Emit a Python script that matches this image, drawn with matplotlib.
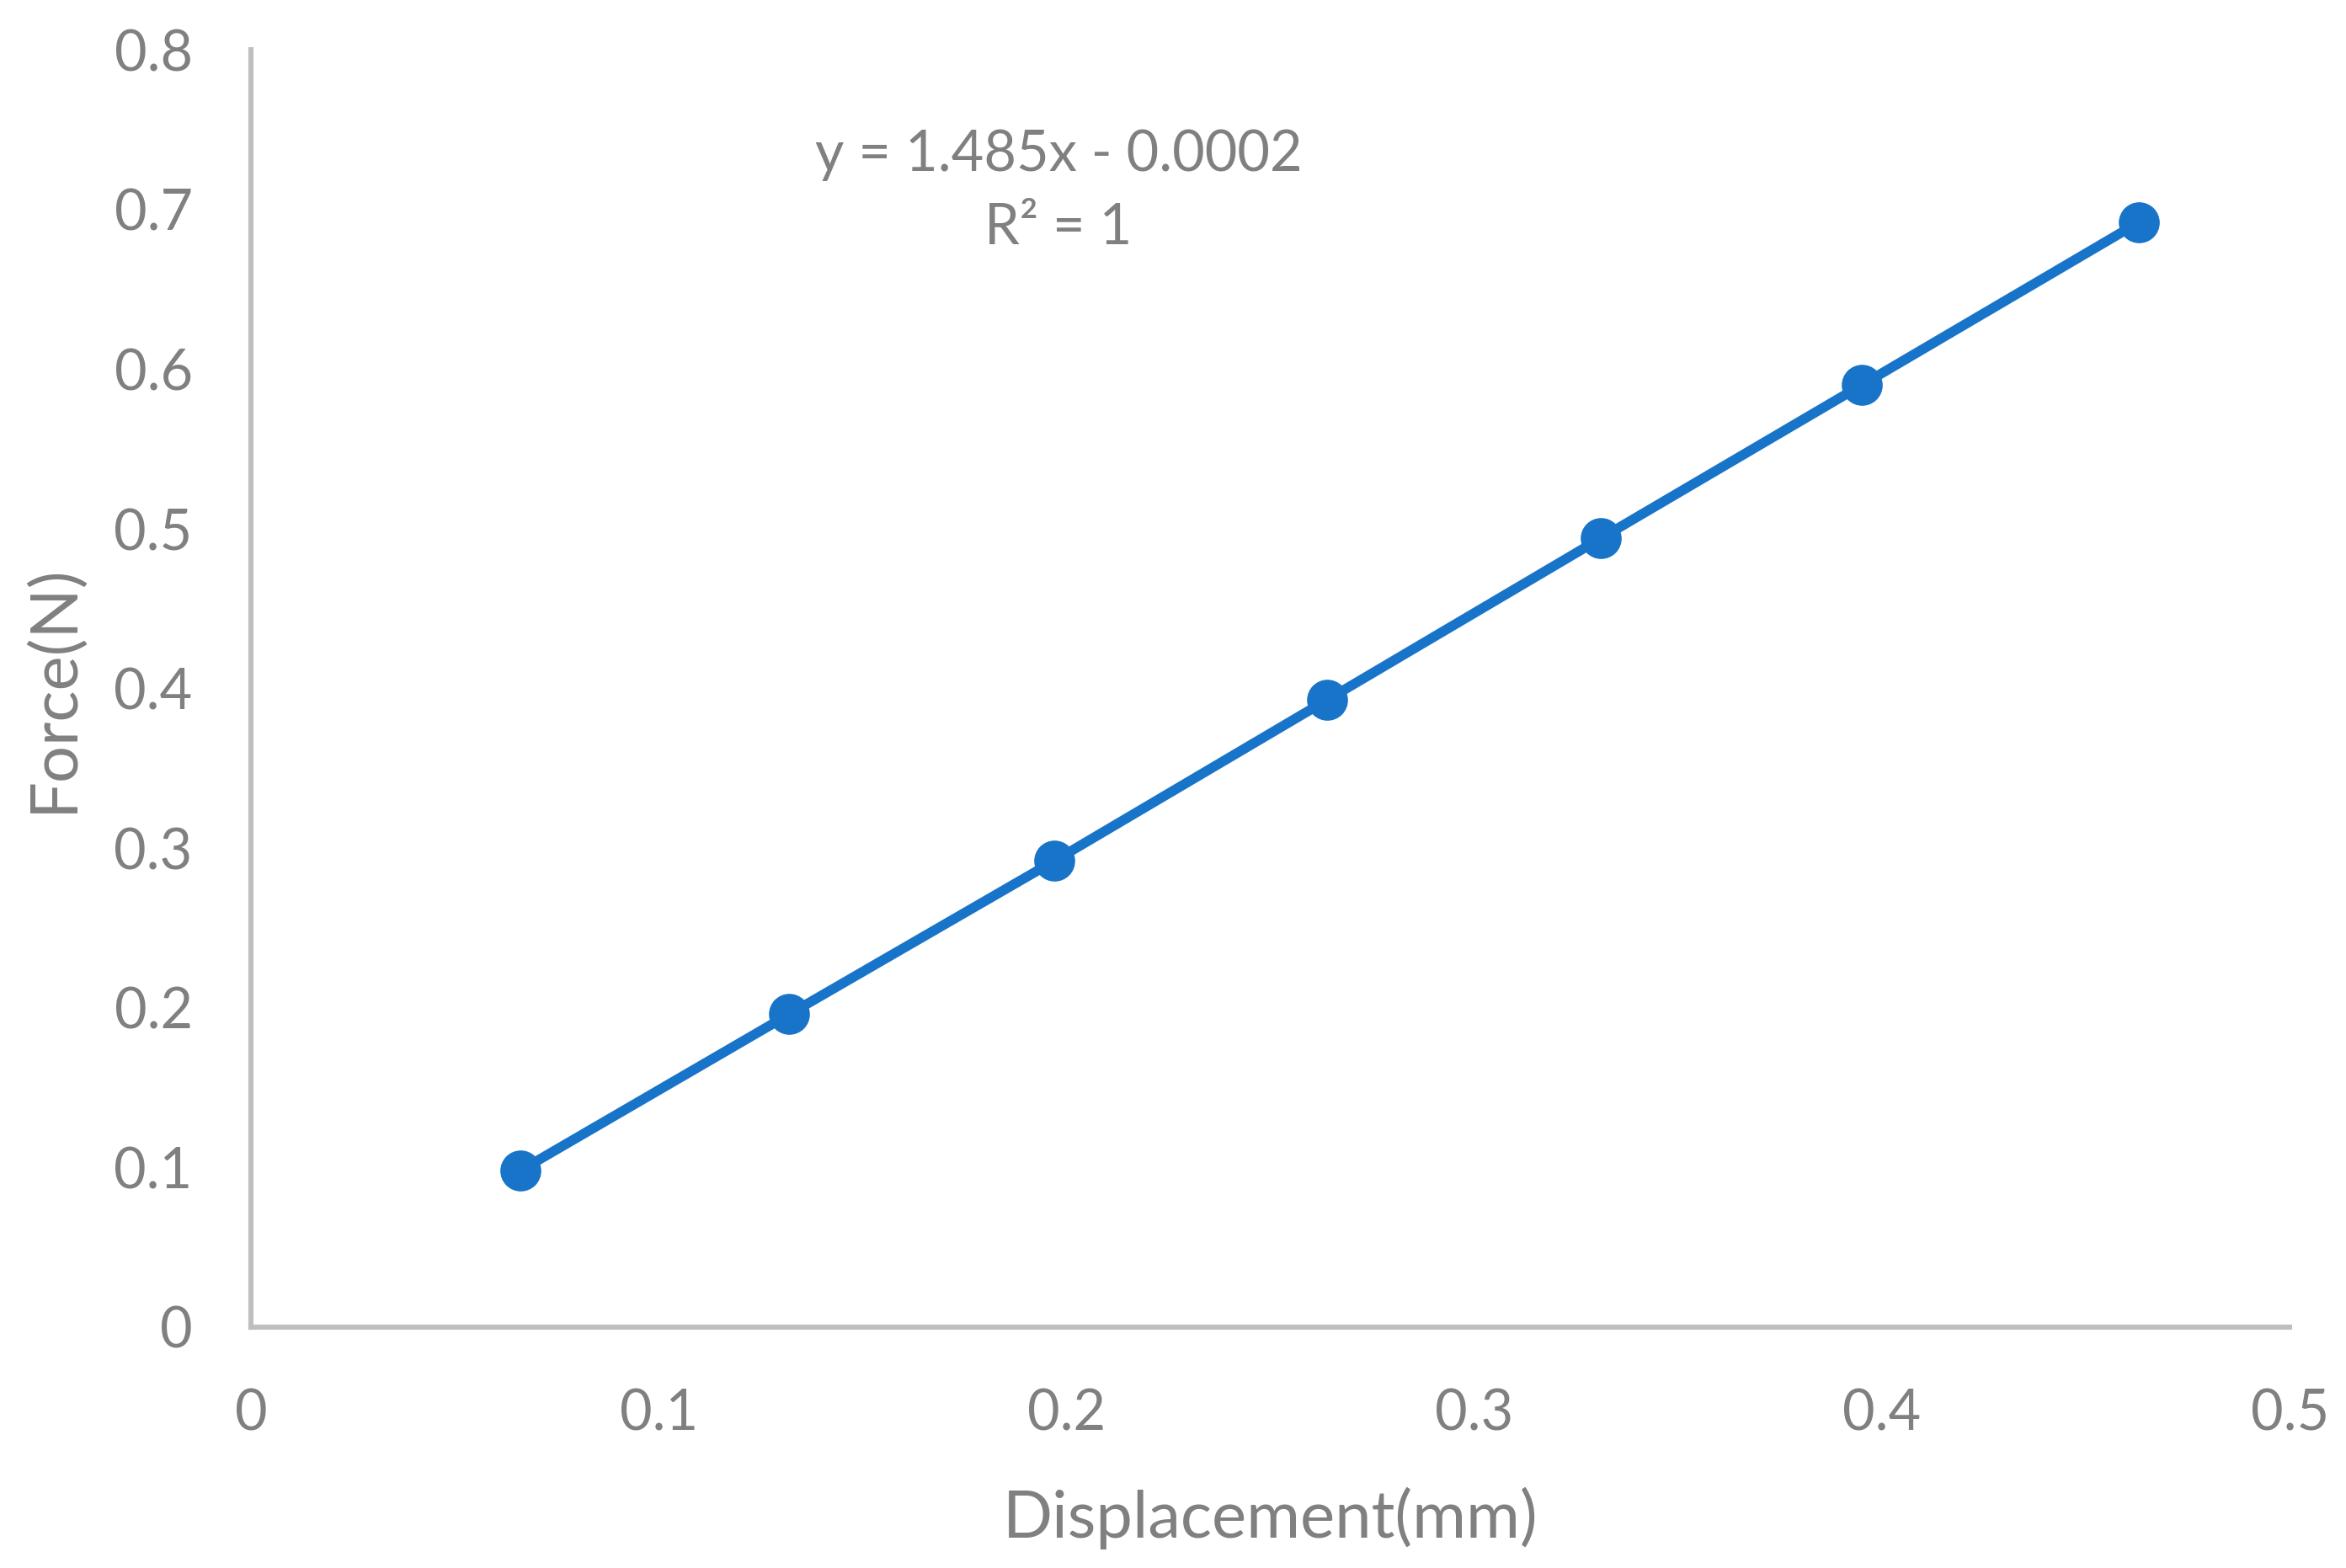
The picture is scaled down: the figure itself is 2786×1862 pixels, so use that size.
import matplotlib.pyplot as plt

# displacement (mm) and force (N)
displacement = [0.066, 0.132, 0.197, 0.264, 0.331, 0.395, 0.463]
force = [0.098, 0.196, 0.292, 0.393, 0.494, 0.590, 0.692]

x_ticks = [0, 0.1, 0.2, 0.3, 0.4, 0.5]
y_ticks = [0, 0.1, 0.2, 0.3, 0.4, 0.5, 0.6, 0.7, 0.8]
trend_text = 'y = 1.485x - 0.0002\nR² = 1'

plt.rcParams['font.family'] = ['Lato', 'DejaVu Sans']
grey = '#808080'
blue = '#1874C8'

fig = plt.figure(figsize=(13.93, 9.31), dpi=200)
ax = fig.add_axes([0.107, 0.1536, 0.869, 0.8146])

ax.plot(displacement, force, color=blue, lw=4.2, marker='o', ms=16.5,
        solid_capstyle='round')

ax.set_xlim(0, 0.5)
ax.set_ylim(0, 0.8)
ax.set_xticks(x_ticks)
ax.set_yticks(y_ticks)
ax.set_xticklabels([f'{t:g}' for t in x_ticks])
ax.set_yticklabels([f'{t:g}' for t in y_ticks])
ax.tick_params(length=0, labelsize=24, labelcolor=grey)
ax.tick_params(axis='y', pad=25)
ax.tick_params(axis='x', pad=26)

for s in ['top', 'right']:
    ax.spines[s].set_visible(False)
for s in ['left', 'bottom']:
    ax.spines[s].set_color('#BFBFBF')
    ax.spines[s].set_linewidth(2.2)

ax.set_xlabel('Displacement(mm)', fontsize=28, color=grey, labelpad=20)
ax.set_ylabel('Force(N)', fontsize=28, color=grey, labelpad=13)

ax.text(0.198, 0.711, trend_text, fontsize=24, color=grey,
        ha='center', va='center', multialignment='center', linespacing=1.5)

plt.savefig('out.png')
